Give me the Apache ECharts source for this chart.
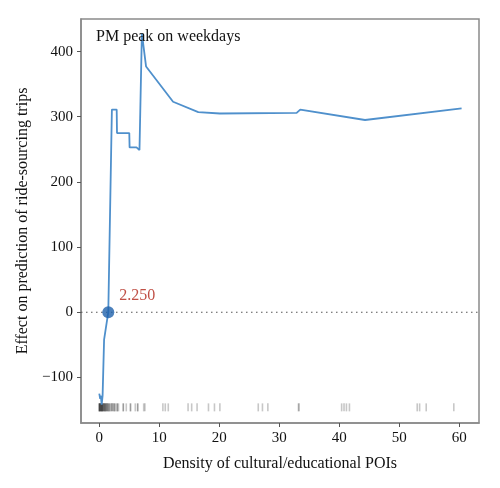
<!DOCTYPE html>
<html>
<head>
<meta charset="utf-8">
<script src="https://cdn.jsdelivr.net/npm/echarts@6/dist/echarts.min.js"></script>
<style>html,body{margin:0;padding:0;background:#fff}#c{width:500px;height:488px}</style>
</head>
<body>
<div id="c"></div>
<script>
// Partial dependence curve
const pdX = [0, 0.15, 0.25, 0.4, 0.55, 0.8, 1.5, 2.1, 2.9, 2.95, 5.0, 5.05, 6.2, 6.7, 7.1, 7.8, 12.3, 16.5, 20.1, 32.9, 33.5, 44.3, 60.4];
const pdY = [-125, -133, -128, -142, -128, -42, 0, 311, 311, 275, 275, 253, 253, 249, 428, 377, 323, 307, 305, 306, 311, 295, 313];
// Highlighted point
const pointX = [1.5];
const pointY = [0];
const pointLabel = "2.250";
// Rug (data distribution)
const rugX = [0, 0, 0, 0.1, 0.1, 0.2, 0.2, 0.3, 0.3, 0.4, 0.4, 0.5, 0.5, 0.6, 0.6, 0.7, 0.8, 0.8, 0.9, 1.0, 1.0, 1.1, 1.2, 1.3, 1.3,
  1.5, 1.5, 1.7, 1.7, 1.9, 2.1, 2.1, 2.3, 2.5, 2.5, 2.7, 3.0, 3.0, 3.2,
  4.0, 4.0, 4.5, 5.2, 5.2, 6.0, 6.4, 6.4, 7.4, 7.6,
  10.6, 11.0, 11.5, 14.8, 15.4, 16.3, 18.2, 19.2, 20.1, 26.5, 27.2, 28.1, 33.2, 33.3,
  40.4, 40.8, 41.2, 41.7, 53.0, 53.4, 54.5, 59.1];
const rugLevel = -146;
const xTicks = [0, 10, 20, 30, 40, 50, 60];
const yTicks = [-100, 0, 100, 200, 300, 400];
const titleText = "PM peak on weekdays";
const xName = "Density of cultural/educational POIs";
const yName = "Effect on prediction of ride-sourcing trips";

const FONT = "'Liberation Serif', 'DejaVu Serif', serif";
const chart = echarts.init(document.getElementById('c'), null, {renderer: 'canvas'});
const lineData = pdX.map((x, i) => [x, pdY[i]]);
const rugData = rugX.map(x => [x, rugLevel]);
const ptData = pointX.map((x, i) => [x, pointY[i]]);

chart.setOption({
  animation: false,
  backgroundColor: '#fff',
  title: {
    text: titleText, left: 91, top: 24,
    textStyle: {fontFamily: FONT, fontSize: 16, fontWeight: 'normal', color: '#111'}
  },
  grid: {left: 81, top: 19, right: 21, bottom: 65, show: true, borderColor: '#8a8a8a', borderWidth: 1.5, backgroundColor: 'transparent'},
  xAxis: {
    type: 'value', min: -3.05, max: 63.3,
    name: xName, nameLocation: 'middle', nameGap: 33,
    nameTextStyle: {fontFamily: FONT, fontSize: 16, color: '#111'},
    axisLine: {show: true, onZero: false, lineStyle: {color: '#8a8a8a', width: 1.5}},
    axisTick: {show: true, length: 4, customValues: xTicks, lineStyle: {color: '#555'}},
    axisLabel: {customValues: xTicks, fontFamily: FONT, fontSize: 15, color: '#111', margin: 8},
    splitLine: {show: false}
  },
  yAxis: {
    type: 'value', min: -170, max: 450,
    name: yName, nameLocation: 'middle', nameGap: 42, nameRotate: 90,
    nameTextStyle: {fontFamily: FONT, fontSize: 16, color: '#111'},
    axisLine: {show: true, onZero: false, lineStyle: {color: '#8a8a8a', width: 1.5}},
    axisTick: {show: true, length: 4, customValues: yTicks, lineStyle: {color: '#555'}},
    axisLabel: {customValues: yTicks, fontFamily: FONT, fontSize: 15, color: '#111', margin: 8,
      formatter: v => (v < 0 ? '\u2212' + Math.abs(v) : String(v))},
    splitLine: {show: false}
  },
  series: [
    {
      type: 'line', data: [[-3.05, 0], [63.3, 0]], symbol: 'none', silent: true,
      lineStyle: {color: '#555', width: 1.2, type: [1.5, 3.5]}, z: 1
    },
    {
      type: 'scatter', data: rugData, symbol: 'rect', symbolSize: [1.6, 8],
      itemStyle: {color: '#000', opacity: 0.22}, silent: true, z: 2
    },
    {
      type: 'line', data: lineData, symbol: 'none', smooth: false,
      lineStyle: {color: '#4f90cc', width: 1.8}, z: 3
    },
    {
      type: 'scatter', data: ptData, symbol: 'circle', symbolSize: 12,
      itemStyle: {color: '#1f62ab'}, z: 4,
      label: {show: true, position: 'right', formatter: () => pointLabel, offset: [0, -16],
        fontFamily: FONT, fontSize: 16, color: '#b02418'}
    }
  ]
});
</script>
</body>
</html>
